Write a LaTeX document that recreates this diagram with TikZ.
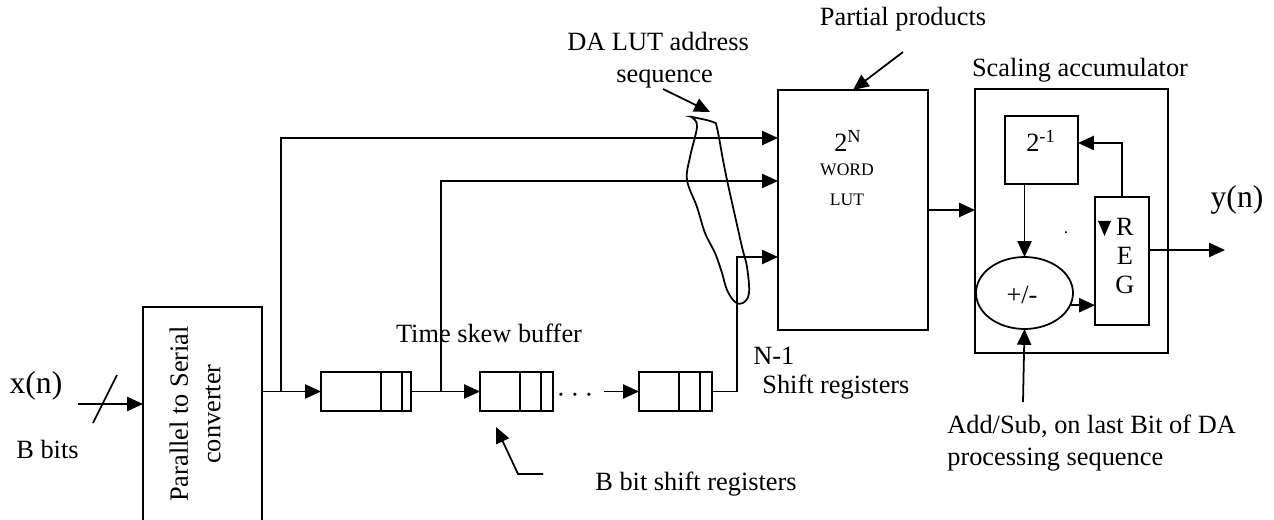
\documentclass[tikz,border=0pt]{standalone}
\usepackage{fontspec}
\setmainfont{Liberation Serif}
\usetikzlibrary{arrows.meta,positioning,shapes.geometric}
\tikzset{
  box/.style={draw, line width=1pt, inner sep=0pt, outer sep=0pt},
  wire/.style={line width=1pt},
  arr/.style={line width=1pt, -{Triangle[length=9pt,width=8pt]}},
  lbl/.style={font=\fontsize{15}{18.5}\selectfont, inner sep=0pt},
  big/.style={font=\fontsize{18}{21}\selectfont, inner sep=0pt},
  tiny/.style={font=\fontsize{10}{12}\selectfont, inner sep=0pt},
}

\begin{document}
\begin{tikzpicture}[x=0.02cm, y=-0.02cm]
\useasboundingbox (0,0) rectangle (1274,520);

\node[box, minimum width=2.38cm, minimum height=4.66cm] (conv) at (202.5,423.5) {};
\node[lbl, rotate=90, align=center] (convtxt) at (195,414) {Parallel to Serial\\converter};

\node[box, minimum width=1.8cm, minimum height=0.78cm] (reg1) at (366,391.5) {};
\node[box, minimum width=1.46cm, minimum height=0.78cm] (reg2) at (516.5,391.5) {};
\node[box, minimum width=1.46cm, minimum height=0.78cm] (reg3) at (675.5,391.5) {};
\foreach \x in {381,402,520,541,679,700}
  \draw[wire] (\x,372) -- (\x,411);
\node[lbl] (dots) at (575,398) {·\hspace{3pt}·\hspace{3pt}·};

\node[box, minimum width=3cm, minimum height=4.8cm] (lut) at (853,210) {};
\node[lbl] (lutn) at (848,141) {2\textsuperscript{N}};
\node[tiny] (lutw) at (847,170) {WORD};
\node[tiny] (lutl) at (847,200) {LUT};

\node[box, minimum width=3.86cm, minimum height=5.28cm] (acc) at (1071.5,221) {};
\node[box, minimum width=1.46cm, minimum height=1.36cm] (half) at (1041.5,150) {};
\node[lbl] (halftxt) at (1041,141) {2\textsuperscript{-1}};
\node[box, minimum width=1.08cm, minimum height=2.56cm] (reg) at (1122,261) {};
\node[lbl, align=center, font=\fontsize{15}{16.5}\selectfont] (regtxt) at (1125,256) {R\\E\\G};
\fill (1098,221) -- (1111,221) -- (1104.5,236) -- cycle;
\node[box, ellipse, minimum width=1.94cm, minimum height=1.44cm] (add) at (1024.5,293) {};
\node[lbl] (addtxt) at (1022,295) {+/-};
\node[tiny] (dot) at (1066,233) {.};

\coordinate (xin) at (78,404);
\coordinate (j1) at (281,391.5);
\coordinate (j2) at (441,391.5);
\coordinate (j3) at (737,391.5);
\coordinate (in1) at (778,138);
\coordinate (in2) at (778,181);
\coordinate (in3) at (778,257);
\coordinate (yout) at (1225,250);
\coordinate (sub) at (1023,402);
\coordinate (bsr) at (543,474);
\coordinate (bsrtip) at (496,427);
\coordinate (das) at (663,89);
\coordinate (dastip) at (710,112);
\coordinate (pp) at (903,52);

\draw[arr] (xin) -- (xin -| conv.west);
\draw[wire] (93,423) -- (117,375);
\draw[arr] (conv.east |- j1) -- (reg1.west);
\draw[arr] (j1) |- (in1);
\draw[arr] (reg1.east) -- (reg2.west);
\draw[arr] (j2) |- (in2);
\draw[arr] (dots.east |- reg3.west) ++(10,0) -- (reg3.west);
\draw[wire] (reg3.east) -- (j3);
\draw[arr] (j3) |- (in3);
\draw[arr] (lut.east) -- (lut.east -| acc.west);
\draw[arr] (add.north |- half.south) -- (add.north);
\draw[arr] (reg.north) |- ([yshift=4pt]half.east);
\draw[arr] (add.-15) -- (add.-15 -| reg.west);
\draw[arr] (reg.east |- yout) -- (yout);
\draw[arr] (sub) -- (add.south);
\draw[arr] (bsr) -- ++(-25,0) -- (bsrtip);
\draw[arr] (das) -- (dastip);
\draw[arr] (pp) -- (lut.north);

\draw[wire] plot[smooth cycle, tension=0.6] coordinates {
  (692,117) (713,122) (717,128) (723,160) (727,180) (733,207) (742,247)
  (747,267) (749,293) (743,303) (735,302) (727,290) (722,273) (715,253)
  (705,233) (697,207) (687,180) (690,157) (697,127) (693,118)};

\node[big] (xn) at (36,386) {x(n)};
\node[lbl] (bbits) at (47.5,449) {B bits};
\node[lbl] (tsb) at (489,333) {Time skew buffer};
\node[lbl] (bsrtxt) at (696,484) {B bit shift registers};
\node[lbl, anchor=west] (nm1) at (753,356) {N-1};
\node[lbl, anchor=west] (shreg) at (762,387) {Shift registers};
\node[lbl, align=center] (datxt) at (658,60) {DA LUT address\\ \ \ sequence};
\node[lbl] (pptxt) at (903,19) {Partial products};
\node[lbl] (acctxt) at (1080,70) {Scaling accumulator};
\node[big] (yn) at (1237,200) {y(n)};
\node[lbl, align=left, anchor=west] (subtxt) at (947,443) {Add/Sub, on last Bit of DA\\processing sequence};
\end{tikzpicture}
\end{document}
